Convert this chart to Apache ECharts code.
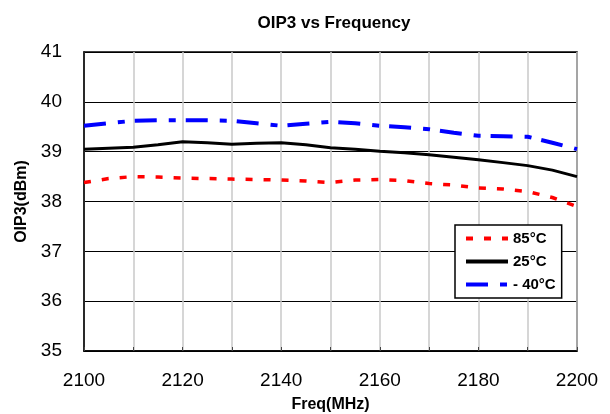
<!DOCTYPE html>
<html>
<head>
<meta charset="utf-8">
<script src="https://cdn.jsdelivr.net/npm/echarts@6/dist/echarts.min.js"></script>
<style>html,body{margin:0;padding:0;background:#fff}#c{width:610px;height:414px}</style>
</head>
<body>
<div id="c"></div>
<script>
var freq = [2100,2105,2110,2115,2120,2125,2130,2135,2140,2145,2150,2155,2160,2165,2170,2175,2180,2185,2190,2195,2200];
var t85 = [38.38,38.46,38.50,38.49,38.47,38.46,38.45,38.44,38.43,38.41,38.38,38.43,38.44,38.42,38.36,38.33,38.27,38.25,38.20,38.08,37.90];
var t25 = [39.05,39.07,39.09,39.14,39.20,39.18,39.15,39.17,39.18,39.14,39.08,39.05,39.01,38.98,38.94,38.89,38.84,38.78,38.72,38.63,38.50];
var tm40 = [39.52,39.57,39.62,39.63,39.63,39.63,39.62,39.57,39.52,39.56,39.60,39.57,39.52,39.49,39.45,39.38,39.32,39.31,39.30,39.18,39.05];
var seriesNames = ['85°C','25°C','- 40°C'];

function pairs(v){ return freq.map(function(f,i){ return [f, v[i]]; }); }

var chart = echarts.init(document.getElementById('c'));
var font = 'Arial, "Liberation Sans", sans-serif';
chart.setOption({
  animation: false,
  backgroundColor: '#fff',
  title: {
    text: 'OIP3 vs Frequency', left: 329, top: 10, textAlign: 'center',
    textStyle: {fontFamily: font, fontSize: 17, fontWeight: 'bold', color: '#000'}
  },
  grid: {left: 84, right: 33, top: 52, bottom: 63, show: true, borderColor: '#000', borderWidth: 1.5,
         containLabel: false, outerBoundsMode: 'none'},
  legend: {
    orient: 'vertical', left: 455, top: 225, width: 100,
    backgroundColor: '#fff', borderColor: '#000', borderWidth: 1.5,
    padding: [6, 6, 6, 9], itemWidth: 42, itemHeight: 14, itemGap: 8,
    itemStyle: {opacity: 0},
    lineStyle: {width: 4},
    textStyle: {fontFamily: font, fontSize: 15, fontWeight: 'bold', color: '#000'},
    data: seriesNames
  },
  xAxis: {
    type: 'value', min: 2100, max: 2200, interval: 10,
    name: 'Freq(MHz)', nameLocation: 'middle', nameGap: 46,
    nameTextStyle: {fontFamily: font, fontSize: 16, fontWeight: 'bold', color: '#000'},
    axisLine: {lineStyle: {color: '#000', width: 1.5}},
    axisTick: {show: true, inside: true, length: 4, lineStyle: {color: '#444'}},
    axisLabel: {fontFamily: font, fontSize: 19, color: '#000', margin: 20,
      formatter: function(v){ return (v % 20 === 0) ? String(v) : ''; }},
    splitLine: {show: true, lineStyle: {color: '#c8c8c8', width: 1.5}}
  },
  yAxis: {
    type: 'value', min: 35, max: 41, interval: 1,
    name: 'OIP3(dBm)', nameLocation: 'middle', nameGap: 49, nameRotate: 90,
    nameTextStyle: {fontFamily: font, fontSize: 16, fontWeight: 'bold', color: '#000'},
    axisLine: {show: true, lineStyle: {color: '#000', width: 1.5}},
    axisTick: {show: false},
    axisLabel: {fontFamily: font, fontSize: 19, color: '#000', margin: 22},
    splitLine: {show: true, lineStyle: {color: '#000', width: 1}}
  },
  series: [
    {name: seriesNames[0], type: 'line', data: pairs(t85), showSymbol: false, symbol: 'none',
     itemStyle: {color: '#ff0000'},
     lineStyle: {color: '#ff0000', width: 3.5, type: [7, 11]}},
    {name: seriesNames[1], type: 'line', data: pairs(t25), showSymbol: false, symbol: 'none',
     itemStyle: {color: '#000'},
     lineStyle: {color: '#000', width: 3}},
    {name: seriesNames[2], type: 'line', data: pairs(tm40), showSymbol: false, symbol: 'none',
     itemStyle: {color: '#0000ff'},
     lineStyle: {color: '#0000ff', width: 4, type: [22, 12, 7, 10]}}
  ]
});
</script>
</body>
</html>
